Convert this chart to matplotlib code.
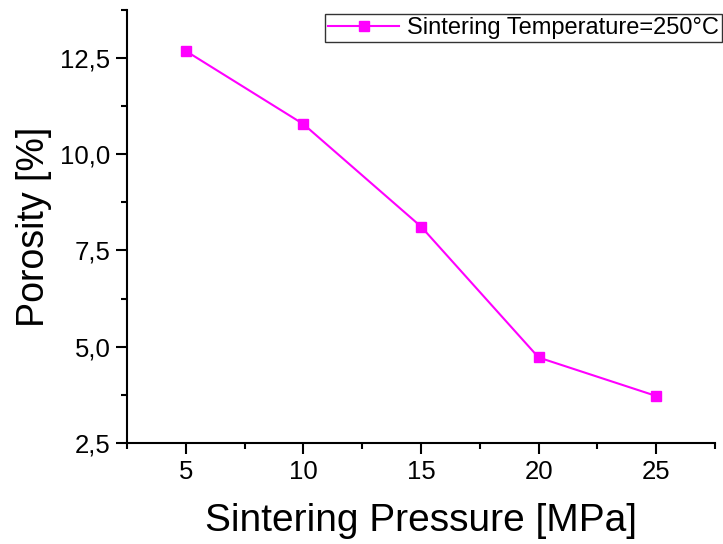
import matplotlib
matplotlib.use('Agg')
import matplotlib.pyplot as plt
from matplotlib.ticker import MultipleLocator, FuncFormatter

plt.rcParams['font.family'] = ['Liberation Sans', 'DejaVu Sans']

pressure = [5, 10, 15, 20, 25]
porosity = [12.68, 10.78, 8.12, 4.72, 3.72]
series_label = 'Sintering Temperature=250°C'

fig = plt.figure(figsize=(7.23, 5.44), dpi=100)
ax = fig.add_axes([0.1757, 0.1857, 0.8133, 0.7963])
ax.plot(pressure, porosity, color='#ff00ff', lw=1.5, marker='s', ms=7.5,
        label=series_label)

ax.set_xlim(2.5, 27.5)
ax.set_ylim(2.5, 13.75)
ax.xaxis.set_major_locator(MultipleLocator(5))
ax.xaxis.set_minor_locator(MultipleLocator(2.5))
ax.yaxis.set_major_locator(MultipleLocator(2.5))
ax.yaxis.set_minor_locator(MultipleLocator(1.25))
ax.yaxis.set_major_formatter(FuncFormatter(lambda v, p: ('%.1f' % v).replace('.', ',')))
ax.spines['top'].set_visible(False)
ax.spines['right'].set_visible(False)
for s in ['left', 'bottom']:
    ax.spines[s].set_linewidth(1.5)
ax.tick_params(which='major', direction='out', length=8, width=1.5, labelsize=18.5, pad=4)
ax.tick_params(which='minor', direction='out', length=4, width=1.5)

ax.set_xlabel('Sintering Pressure [MPa]', fontsize=28, labelpad=14)
ax.set_ylabel('Porosity [%]', fontsize=27, labelpad=6)

leg = ax.legend(loc='upper right', bbox_to_anchor=(1.012, 0.99), fontsize=17,
                frameon=True, fancybox=False, edgecolor='black', borderpad=0.12,
                handlelength=3.0, handletextpad=0.35, markerscale=0.9,
                borderaxespad=0)
leg.get_frame().set_linewidth(1.0)

fig.savefig('out.png', dpi=100)
